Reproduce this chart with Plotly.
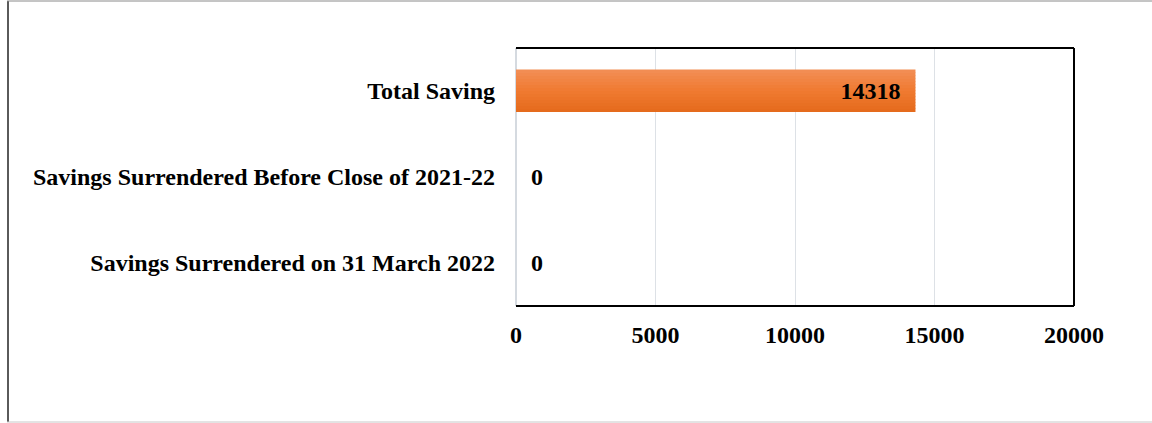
import plotly.graph_objects as go

# Savings figures (in ₹ lakh), top-to-bottom order as displayed
categories = [
    "Total Saving",
    "Savings Surrendered Before Close of 2021-22",
    "Savings Surrendered on 31 March 2022",
]
values = [14318, 0, 0]
tick_values = [0, 5000, 10000, 15000, 20000]

W, H = 1152, 423
L, R, T, B = 516, 78, 48, 117
pw, ph = W - L - R, H - T - B

FAMILY = "Liberation Serif, Times New Roman, serif"
font = dict(family=FAMILY, size=24, color="black")

BAR_W = 0.49
N_SLICES = 14
TOP_RGB = (242, 142, 86)
MID_RGB = (240, 122, 48)
BOT_RGB = (228, 106, 28)


def shade(t):
    # t = 0 at the bottom edge of the bar, 1 at the top edge
    if t < 0.5:
        a, b, u = BOT_RGB, MID_RGB, t / 0.5
    else:
        a, b, u = MID_RGB, TOP_RGB, (t - 0.5) / 0.5
    r, g, bl = (round(a[i] + (b[i] - a[i]) * u) for i in range(3))
    return f"rgb({r},{g},{bl})"


fig = go.Figure()

# bar body drawn as thin horizontal slices for a vertical colour gradient
slice_w = BAR_W / N_SLICES
for i in range(N_SLICES):
    fig.add_trace(go.Bar(
        y=categories,
        x=values,
        orientation="h",
        width=slice_w * 1.15,
        offset=-BAR_W / 2 + i * slice_w,
        marker=dict(color=shade((i + 0.5) / N_SLICES), line=dict(width=0)),
        hoverinfo="skip",
    ))

# value labels
NBSP = "\u00a0"
labels = [
    f"<b>{v}</b>{NBSP * 2}" if v > 0 else f"{NBSP * 2}<b>{v}</b>"
    for v in values
]
fig.add_trace(go.Bar(
    y=categories,
    x=values,
    orientation="h",
    width=BAR_W,
    marker=dict(color="rgba(0,0,0,0)", line=dict(width=0)),
    text=labels,
    textposition=["inside" if v > 0 else "outside" for v in values],
    insidetextanchor="end",
    textfont=dict(family=FAMILY, size=24, color="black"),
    insidetextfont=dict(family=FAMILY, size=24, color="black"),
    outsidetextfont=dict(family=FAMILY, size=24, color="black"),
    textangle=0,
    cliponaxis=False,
))


def px_x(x):
    return (x - L) / pw


def px_y(y):
    return 1 - (y - T) / ph


# outer chart frame (left, top and bottom edges)
fig.add_shape(type="line", xref="paper", yref="paper",
              x0=px_x(8), x1=px_x(8), y0=px_y(1), y1=px_y(422),
              line=dict(color="#5a5a5a", width=2))
fig.add_shape(type="line", xref="paper", yref="paper",
              x0=px_x(7), x1=px_x(1152), y0=px_y(1), y1=px_y(1),
              line=dict(color="#8a8a8a", width=1))
fig.add_shape(type="line", xref="paper", yref="paper",
              x0=px_x(7), x1=px_x(1152), y0=px_y(422), y1=px_y(422),
              line=dict(color="#c8c8c8", width=1))

# plot-area frame: black top, right and bottom edges
for x0, x1, y0, y1 in [(0, 1, 1, 1), (1, 1, 0, 1), (0, 1, 0, 0)]:
    fig.add_shape(type="line", xref="paper", yref="paper",
                  x0=x0, x1=x1, y0=y0, y1=y1,
                  line=dict(color="black", width=2))

fig.update_layout(
    width=W, height=H,
    margin=dict(l=L, r=R, t=T, b=B, pad=0),
    paper_bgcolor="white",
    plot_bgcolor="white",
    showlegend=False,
    barmode="overlay",
    font=font,
    xaxis=dict(
        range=[0, 20000],
        tickvals=tick_values,
        ticktext=[f"<b>{v}</b>" for v in tick_values],
        showgrid=True,
        gridcolor="#dde1e6",
        gridwidth=1,
        zeroline=True,
        zerolinecolor="#d5dae0",
        zerolinewidth=2,
        showline=False,
        ticks="",
        ticklabelstandoff=12,
    ),
    yaxis=dict(
        categoryorder="array",
        categoryarray=categories[::-1],
        tickvals=categories,
        ticktext=[f"<b>{c}</b>" for c in categories],
        showgrid=False,
        showline=False,
        ticks="",
        ticklabelstandoff=20,
    ),
)

fig.write_html("out.html")
